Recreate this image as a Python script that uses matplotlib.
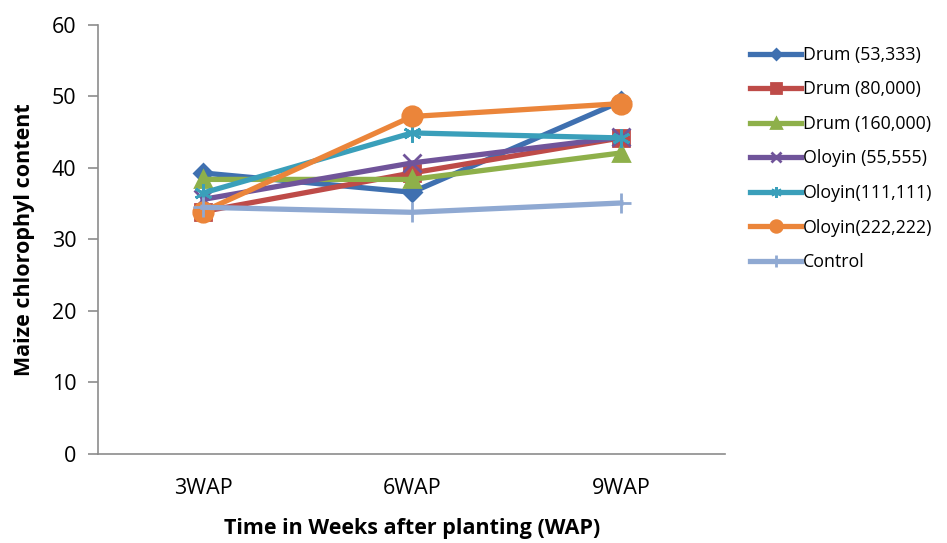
import matplotlib.pyplot as plt
import numpy as np

plt.rcParams['font.family'] = ['Open Sans', 'DejaVu Sans']

weeks = ["3WAP", "6WAP", "9WAP"]
labels = ["Drum (53,333)", "Drum (80,000)", "Drum (160,000)", "Oloyin (55,555)",
          "Oloyin(111,111)", "Oloyin(222,222)", "Control"]
drum_53 = [39.3, 36.6, 49.3]
drum_80 = [33.9, 39.3, 44.2]
drum_160 = [38.4, 38.4, 42.1]
oloyin_55 = [35.6, 40.7, 44.3]
oloyin_111 = [36.5, 44.9, 44.2]
oloyin_222 = [33.9, 47.2, 49.0]
control = [34.5, 33.8, 35.1]

series = [drum_53, drum_80, drum_160, oloyin_55, oloyin_111, oloyin_222, control]
colors = ["#3F70B0", "#BE4B48", "#8EB04A", "#70549A", "#3A9FBA", "#EB853A", "#8FA9D2"]
markers = ["D", "s", "^", "x", (6, 2, 0), "o", "+"]
msizes = [9, 11, 12, 13, 13, 14, 14]

fig = plt.figure(figsize=(9.47, 5.43), dpi=100)
ax = fig.add_axes([0.104, 0.164, 0.662, 0.79])

x = np.arange(len(weeks)) + 0.5
for vals, lab, c, m, ms in zip(series, labels, colors, markers, msizes):
    ax.plot(x, vals, color=c, lw=3.8, marker=m, markersize=ms,
            markeredgecolor=c, markeredgewidth=2, label=lab)

ax.set_xlim(0, 3)
ax.set_ylim(0, 60)
ax.set_yticks(range(0, 61, 10))
ax.set_xticks(x)
ax.set_xticklabels(weeks)
ax.tick_params(axis='x', length=0, labelsize=15.5, pad=17)
ax.tick_params(axis='y', length=7, width=1.2, direction='out', labelsize=15.5,
               color='#8C8C8C', pad=9)
for s in ['top', 'right']:
    ax.spines[s].set_visible(False)
for s in ['left', 'bottom']:
    ax.spines[s].set_color('#8C8C8C')
    ax.spines[s].set_linewidth(1.2)

ax.set_xlabel("Time in Weeks after planting (WAP)", fontsize=15.5, fontweight='bold', labelpad=14)
ax.set_ylabel("Maize chlorophyl content", fontsize=15.5, fontweight='bold', labelpad=12)

leg = fig.legend(loc='upper left', bbox_to_anchor=(0.775, 0.945), frameon=False,
                 fontsize=12.8, handlelength=2.9, handletextpad=0.1, labelspacing=0.93,
                 markerscale=0.6)

fig.savefig("out.png", dpi=100)
